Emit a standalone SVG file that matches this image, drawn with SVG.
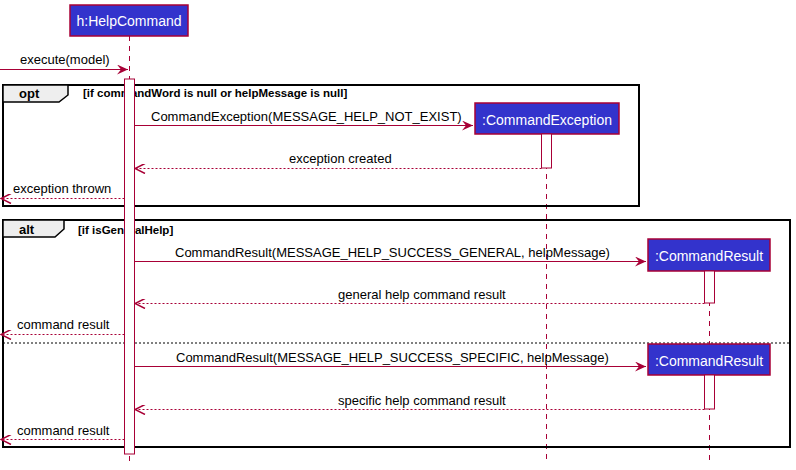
<svg xmlns="http://www.w3.org/2000/svg" width="796" height="470" viewBox="0 0 796 470">
<defs>
<marker id="arr" viewBox="0 0 12 10" refX="11" refY="5" markerWidth="12" markerHeight="10" markerUnits="userSpaceOnUse" orient="auto">
<path d="M0,0 L11,5 L0,10 L4,5 Z" fill="#A80036"/>
</marker>
<marker id="open" viewBox="0 0 12 10" refX="11" refY="5" markerWidth="12" markerHeight="10" markerUnits="userSpaceOnUse" orient="auto">
<path d="M1,0 L11,5 L1,10" fill="none" stroke="#A80036" stroke-width="1.5"/>
</marker>
</defs>
<style>
.part rect{fill:#3333CC;stroke:#A80036;stroke-width:1.5}
.part text{fill:#FFFFFF;font-family:"Liberation Sans",Arial,sans-serif;font-size:14px;text-anchor:middle}
.life{stroke:#A80036;stroke-width:1;stroke-dasharray:5,5;fill:none}
.act{fill:#FFFFFF;stroke:#A80036;stroke-width:1}
.msg{stroke:#A80036;stroke-width:1;fill:none}
.ret{stroke:#A80036;stroke-width:1;stroke-dasharray:2,2;fill:none}
.lbl{fill:#000000;font-family:"Liberation Sans",Arial,sans-serif;font-size:13px}
.frame{fill:none;stroke:#000000;stroke-width:2}
.tab{fill:#EEEEEE;stroke:#000000;stroke-width:1.5}
.ftitle{fill:#000000;font-family:"Liberation Sans",Arial,sans-serif;font-size:13px;font-weight:bold}
.fcond{fill:#000000;font-family:"Liberation Sans",Arial,sans-serif;font-size:11.5px;font-weight:bold}
</style>
<rect width="796" height="470" fill="#FFFFFF"/>
<g id="lifelines">
<line class="life" x1="129.5" y1="36" x2="129.5" y2="462"/>
<line class="life" x1="546.5" y1="134" x2="546.5" y2="462"/>
<line class="life" x1="709.5" y1="271" x2="709.5" y2="344"/>
<line class="life" x1="709.5" y1="375" x2="709.5" y2="462"/>
</g>
<g id="frames">
<rect class="frame" x="3" y="85" width="636" height="121"/>
<path class="tab" d="M3,85 H68 V95 L59,102 H3 Z"/>
<text class="ftitle" x="19" y="98">opt</text>
<text class="fcond" x="83" y="97">[if commandWord is null or helpMessage is null]</text>
<rect class="frame" x="3" y="220" width="787" height="227"/>
<path class="tab" d="M3,220 H64 V229 L55,237 H3 Z"/>
<text class="ftitle" x="19" y="234">alt</text>
<text class="fcond" x="78" y="234">[if isGeneralHelp]</text>
<line x1="3" y1="343" x2="790" y2="343" stroke="#000000" stroke-width="1" stroke-dasharray="2,2"/>
</g>
<g id="h_HelpCommand" class="part">
<rect x="70" y="5" width="118" height="31"/>
<text x="129" y="26">h:HelpCommand</text>
</g>
<g id="act_help"><rect class="act" x="124.5" y="79" width="10" height="375"/></g>
<g id="CommandException" class="part">
<rect x="475" y="103" width="144" height="31"/>
<text x="547" y="125">:CommandException</text>
</g>
<g id="act_exc"><rect class="act" x="541.5" y="134" width="10" height="34"/></g>
<g id="CommandResult1" class="part">
<rect x="648" y="239" width="122" height="32"/>
<text x="709" y="261">:CommandResult</text>
</g>
<g id="act_res1"><rect class="act" x="704.5" y="271" width="10" height="32"/></g>
<g id="CommandResult2" class="part">
<rect x="648" y="344" width="122" height="31"/>
<text x="709" y="366">:CommandResult</text>
</g>
<g id="act_res2"><rect class="act" x="704.5" y="375" width="10" height="34"/></g>
<g id="connectors">
<line class="msg" x1="0" y1="69.5" x2="128" y2="69.5" marker-end="url(#arr)"/>
<text class="lbl" x="20" y="64">execute(model)</text>
<line class="msg" x1="134.5" y1="125.5" x2="473" y2="125.5" marker-end="url(#arr)"/>
<text class="lbl" x="151" y="121">CommandException(MESSAGE_HELP_NOT_EXIST)</text>
<line class="ret" x1="541.5" y1="168.5" x2="135" y2="168.5" marker-end="url(#open)"/>
<text class="lbl" x="289" y="163">exception created</text>
<line class="ret" x1="124.5" y1="198.5" x2="1" y2="198.5" marker-end="url(#open)"/>
<text class="lbl" x="13" y="193">exception thrown</text>
<line class="msg" x1="134.5" y1="261.5" x2="646" y2="261.5" marker-end="url(#arr)"/>
<text class="lbl" x="175" y="257">CommandResult(MESSAGE_HELP_SUCCESS_GENERAL, helpMessage)</text>
<line class="ret" x1="704.5" y1="303.5" x2="135" y2="303.5" marker-end="url(#open)"/>
<text class="lbl" x="338" y="299">general help command result</text>
<line class="ret" x1="124.5" y1="334.5" x2="1" y2="334.5" marker-end="url(#open)"/>
<text class="lbl" x="17" y="329">command result</text>
<line class="msg" x1="134.5" y1="366.5" x2="646" y2="366.5" marker-end="url(#arr)"/>
<text class="lbl" x="176" y="362">CommandResult(MESSAGE_HELP_SUCCESS_SPECIFIC, helpMessage)</text>
<line class="ret" x1="704.5" y1="409.5" x2="135" y2="409.5" marker-end="url(#open)"/>
<text class="lbl" x="338" y="405">specific help command result</text>
<line class="ret" x1="124.5" y1="439.5" x2="1" y2="439.5" marker-end="url(#open)"/>
<text class="lbl" x="17" y="435">command result</text>
</g>
</svg>
